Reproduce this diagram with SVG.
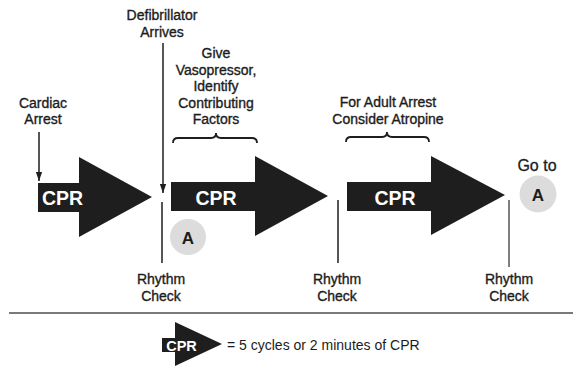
<svg xmlns="http://www.w3.org/2000/svg" width="573" height="367" viewBox="0 0 573 367">
<style>
text{font-family:"Liberation Sans",Arial,sans-serif;fill:#1c1c1c}
.lbl{font-size:14px;text-anchor:middle;stroke:#1c1c1c;stroke-width:0.35}
.cpr{font-size:19.5px;font-weight:bold;fill:#fff;text-anchor:middle}
.arw{fill:#1e1e1e}
.ln{stroke:#1e1e1e;stroke-width:1.5;fill:none}
.brace{stroke:#1e1e1e;stroke-width:1.8;fill:none}
.circ{fill:#dcdcdc}
.a{font-size:17px;font-weight:bold;text-anchor:middle}
</style>
<defs>
<marker id="ah2" markerUnits="userSpaceOnUse" markerWidth="10" markerHeight="13" refX="12" refY="5" orient="auto" viewBox="0 0 13 10">
<path d="M0,0.8 L12,5 L0,9.2 Z" fill="#1e1e1e"/>
</marker>
</defs>

<g id="cardiac-arrest">
<text class="lbl" x="43" y="108">Cardiac</text>
<text class="lbl" x="43" y="124">Arrest</text>
</g>
<g id="defibrillator">
<text class="lbl" x="162" y="20">Defibrillator</text>
<text class="lbl" x="162" y="37">Arrives</text>
</g>
<g id="vasopressor">
<text class="lbl" x="216" y="58">Give</text>
<text class="lbl" x="216" y="74.5">Vasopressor,</text>
<text class="lbl" x="216" y="91">Identify</text>
<text class="lbl" x="216" y="107.5">Contributing</text>
<text class="lbl" x="216" y="124">Factors</text>
<path class="brace" d="M173,143 Q173,138 178,138 L211,138 Q216,138 216,133 Q216,138 221,138 L252,138 Q257,138 257,143"/>
</g>
<g id="atropine">
<text class="lbl" x="388" y="107">For Adult Arrest</text>
<text class="lbl" x="388" y="124">Consider Atropine</text>
<path class="brace" d="M346,142 Q346,137 351,137 L382,137 Q387,137 387,132 Q387,137 392,137 L424,137 Q429,137 429,142"/>
</g>

<g id="cpr1">
<polygon class="arw" points="38,183 79,183 79,157 152,197 79,237 79,212 38,212"/>
<text class="cpr" x="62.5" y="205">CPR</text>
</g>
<g id="cpr2">
<polygon class="arw" points="171,182 255,182 255,156 328,196 255,236 255,211 171,211"/>
<text class="cpr" x="216" y="205">CPR</text>
</g>
<g id="cpr3">
<polygon class="arw" points="347,182 431,182 431,156 505,195 431,235 431,211 347,211"/>
<text class="cpr" x="395" y="205">CPR</text>
</g>

<g id="circle-a">
<circle class="circ" cx="188" cy="237" r="18"/>
<text class="a" x="188" y="243.5">A</text>
</g>
<g id="goto-a">
<text x="537" y="171" style="font-size:16px;text-anchor:middle;stroke:#1c1c1c;stroke-width:0.3">Go to</text>
<circle class="circ" cx="538" cy="194" r="18.5"/>
<text class="a" x="538" y="200.5">A</text>
</g>

<g id="rhythm1">
<text class="lbl" x="161" y="284">Rhythm</text>
<text class="lbl" x="161" y="301">Check</text>
</g>
<g id="rhythm2">
<text class="lbl" x="337" y="284">Rhythm</text>
<text class="lbl" x="337" y="301">Check</text>
</g>
<g id="rhythm3">
<text class="lbl" x="509" y="284">Rhythm</text>
<text class="lbl" x="509" y="301">Check</text>
</g>

<g id="connectors">
<line class="ln" x1="39" y1="132" x2="39" y2="181" marker-end="url(#ah2)"/>
<line class="ln" x1="163" y1="43" x2="163" y2="193" marker-end="url(#ah2)"/>
<line class="ln" x1="162" y1="202" x2="162" y2="263"/>
<line class="ln" x1="338" y1="200" x2="338" y2="263"/>
<line class="ln" x1="509" y1="200" x2="509" y2="267" style="stroke:#555"/>
</g>

<line x1="9" y1="313" x2="573" y2="313" stroke="#7a7a7a" stroke-width="2"/>

<g id="legend">
<polygon class="arw" points="162,338 175,338 175,322 222,344 175,366 175,352 162,352"/>
<text x="181.5" y="351" style="font-size:14.5px;font-weight:bold;fill:#fff;text-anchor:middle">CPR</text>
<text x="227" y="350" style="font-size:14px">= 5 cycles or 2 minutes of CPR</text>
</g>
</svg>
